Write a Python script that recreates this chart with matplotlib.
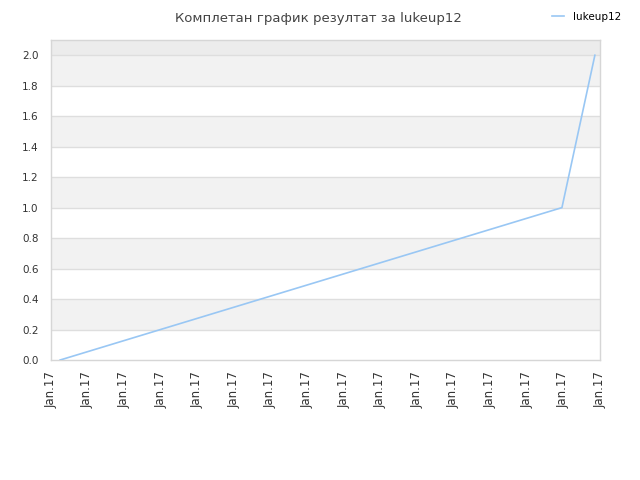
import matplotlib
matplotlib.use("Agg")
import matplotlib.pyplot as plt
import numpy as np

# data
x_pos = [0.25, 13.96, 14.86]
y_vals = [0.0, 1.0, 2.0]
x_ticks = list(range(16))
x_tick_labels = ["Jan.17"] * 16
y_ticks = [0.0, 0.2, 0.4, 0.6, 0.8, 1.0, 1.2, 1.4, 1.6, 1.8, 2.0]
series_name = "lukeup12"
title = "Комплетан график резултат за lukeup12"

fig = plt.figure(figsize=(6.4, 4.8), dpi=100)
ax = fig.add_axes([51/640, 120/480, 549/640, 320/480])

ymax = 2.1
ax.set_xlim(0, 15)
ax.set_ylim(0, ymax)

# alternating bands
for i, yt in enumerate(y_ticks):
    top = y_ticks[i + 1] if i + 1 < len(y_ticks) else ymax
    if i == len(y_ticks) - 1:
        color = "#ececec"
    elif i % 2 == 1:
        color = "#f2f2f2"
    else:
        color = "#ffffff"
    ax.axhspan(yt, top, color=color, zorder=0, lw=0)
for yt in y_ticks[1:]:
    ax.axhline(yt, color="#dedede", lw=1, zorder=1)

ax.plot(x_pos, y_vals, color="#99c7f4", lw=1.2, zorder=3, label=series_name)

ax.set_xticks(x_ticks)
ax.set_xticklabels(x_tick_labels, rotation=90, fontsize=8.5, color="#333333")
ax.set_yticks(y_ticks)
ax.set_yticklabels([f"{v:.1f}" for v in y_ticks], fontsize=7.5, color="#333333")
ax.tick_params(axis="both", length=0)
ax.tick_params(axis="y", pad=9)
ax.tick_params(axis="x", pad=8)

for s in ax.spines.values():
    s.set_color("#d6d6d6")
    s.set_linewidth(1)

fig.text(0.497, 0.975, title, ha="center", va="top", fontsize=9.5, color="#444444")
fig.legend(loc="upper right", bbox_to_anchor=(0.985, 0.995), frameon=False,
           fontsize=7.5, handlelength=1.2, handletextpad=0.8)

fig.savefig("out.png", dpi=100)
